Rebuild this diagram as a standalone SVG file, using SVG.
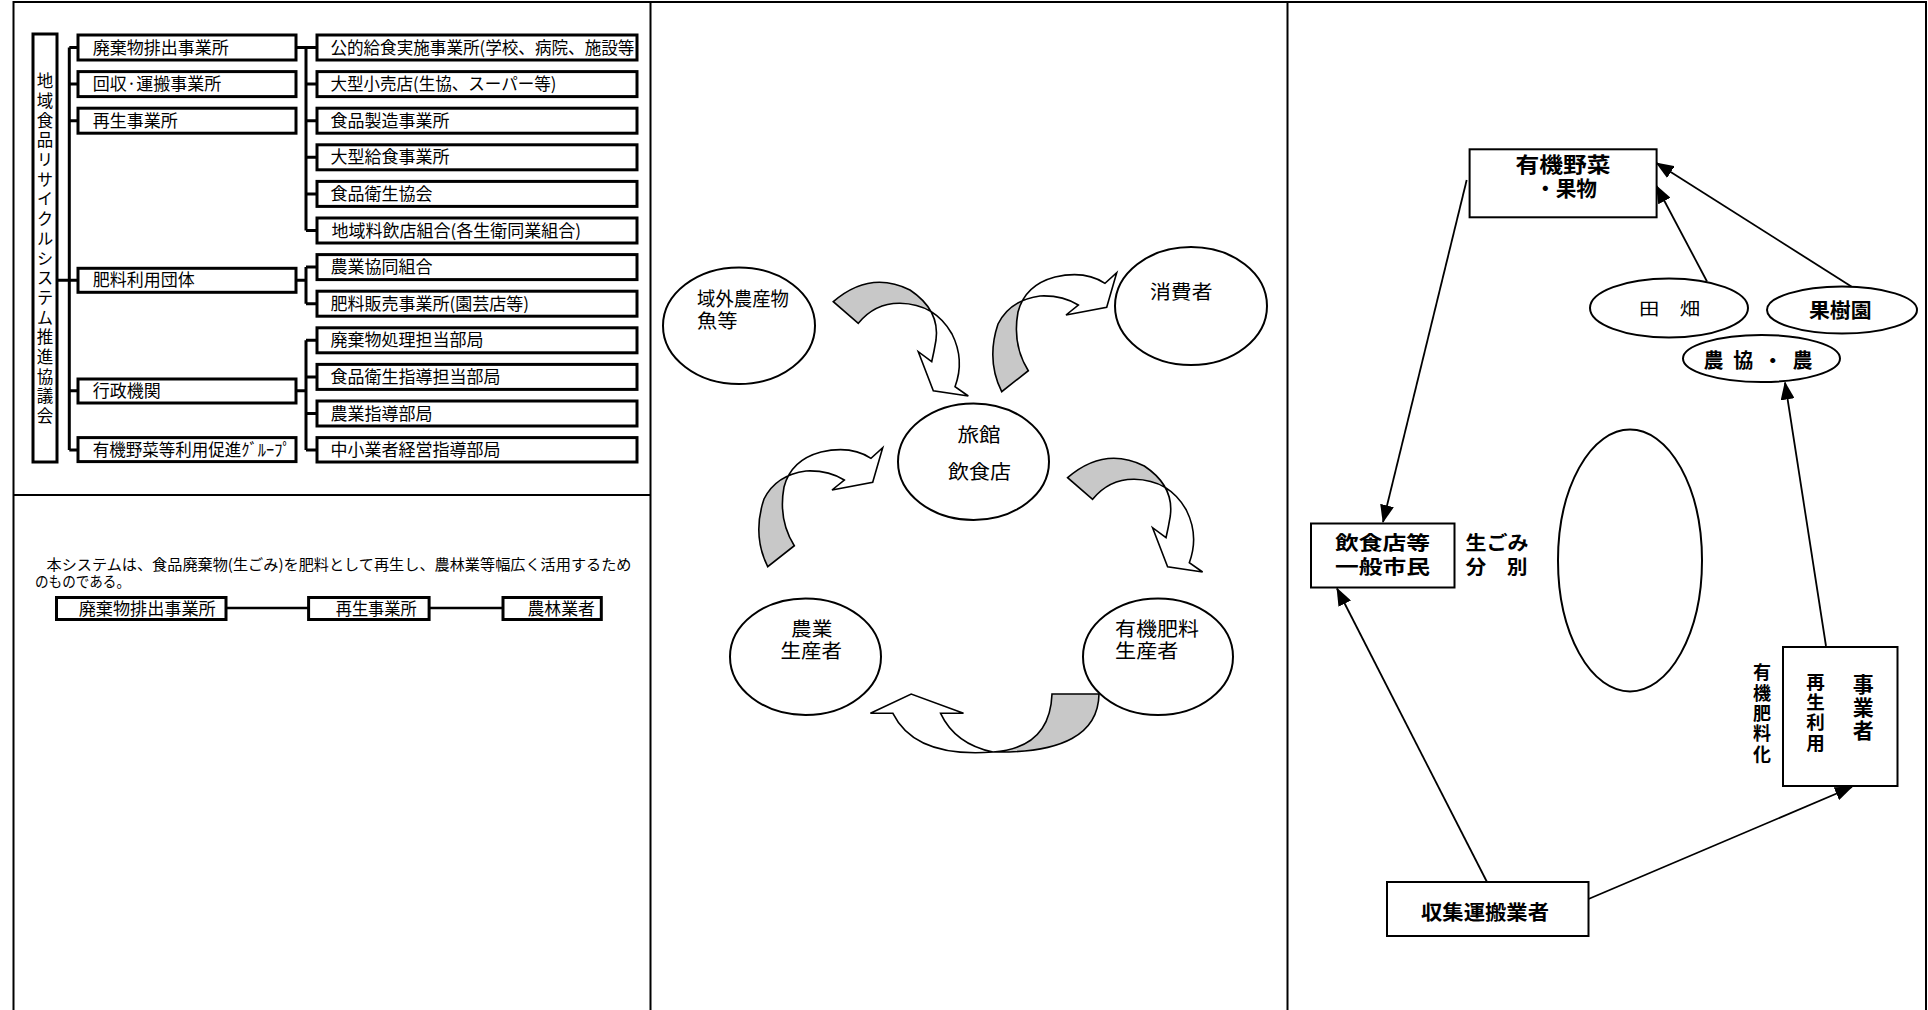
<svg xmlns="http://www.w3.org/2000/svg" xmlns:xlink="http://www.w3.org/1999/xlink" width="1928" height="1010" viewBox="0 0 1928 1010">
<style>
.t{font-family:"Noto Sans CJK JP","Noto Sans CJK SC",sans-serif;fill:#000}
.org{font-size:17px}
.mid{font-size:19.5px}
.b{font-weight:bold}
.vt{writing-mode:vertical-rl}
.box{fill:#fff;stroke:#000;stroke-width:3}
.rbox{fill:#fff;stroke:#000;stroke-width:2}
.ell{fill:#fff;stroke:#000;stroke-width:2}
.frame{stroke:#000;stroke-width:2;fill:none}
.conn{stroke:#000;stroke-width:3;fill:none}
.lnk{stroke:#000;stroke-width:2.5;fill:none}
.arr{stroke:#000;stroke-width:1.8;fill:none;marker-end:url(#ah)}
.rw{fill:#fff;stroke:none}
.rg{fill:#c8c8c8;stroke:none}
.ro{fill:none;stroke:#000;stroke-width:1.6;stroke-linejoin:miter}
</style>
<defs>
<marker id="ah" markerUnits="userSpaceOnUse" markerWidth="18" markerHeight="14" refX="17" refY="7" orient="auto">
<path d="M0,0 L18,7 L0,14 Z" fill="#000"/>
</marker>
<path id="ribA" d="M33.3,51.7 Q70,20 110,40 Q140,60 136,90 Q134,102 131.7,111.7 L118.3,101.7 L133.3,140.7 L168.3,146 L155,136.7 Q165,110 152,84 Q135,54 100,53.3 Q75,53 58.3,73.3 Z"/>
<path id="ribB" d="M201.7,141.7 Q186,110 198,74 Q210,50 240,46 Q262,45 278.3,55 L266,65 L306.7,57.3 L316.7,22.7 L305,33.3 Q285,20 255,27 Q225,35 218,62 Q212,95 228.3,120.7 Z"/>
<path id="ribE" d="M1052,694 Q1050,748 993,752 Q915,758 892.9,713.3 L870.4,713.3 L911.2,694 L963.5,713.3 L940.6,713.3 Q955,744 993,752 Q1098,754 1099,694 Z"/>
<clipPath id="clipA"><polygon points="-100,-100 291,-100 -100,291"/></clipPath>
<clipPath id="clipB"><polygon points="-100,-100 74,-100 400,226 400,400 -100,400"/></clipPath>
<clipPath id="clipE"><polygon points="993,600 1200,600 1200,800 993,800"/></clipPath>
</defs>
<rect width="1928" height="1010" fill="#fff"/>

<g id="frame">
<path class="frame" d="M13.5,1010 V2 H1926 V1010 M650.5,2 V1010 M1287.5,2 V1010 M13.5,495 H650.5"/>
</g>

<g id="connectors">
<path class="conn" d="M69.3,47.5 V450.1 M69.3,47.5 H78 M69.3,84.1 H78 M69.3,120.7 H78 M69.3,280.3 H78 M69.3,390.7 H78 M69.3,450.1 H78 M57,280.3 H69.3"/>
<path class="conn" d="M296,47.5 H306 M306,47.5 V230.5 M306,47.5 H317 M306,84.1 H317 M306,120.7 H317 M306,157.3 H317 M306,193.9 H317 M306,230.5 H317"/>
<path class="conn" d="M296,280.3 H306 M306,267.1 V303.7 M306,267.1 H317 M306,303.7 H317"/>
<path class="conn" d="M296,390.7 H306 M306,340.3 V450.1 M306,340.3 H317 M306,376.9 H317 M306,413.5 H317 M306,450.1 H317"/>
<path class="lnk" d="M226,608 H308.6 M429.1,608 H503"/>
<line class="arr" x1="1854.5" y1="288.5" x2="1656.5" y2="163"/>
<line class="arr" x1="1707" y1="281.5" x2="1656.5" y2="186"/>
<line class="arr" x1="1826" y1="646" x2="1785" y2="382.5"/>
<line class="arr" x1="1466.7" y1="180" x2="1383" y2="522"/>
<line class="arr" x1="1487" y1="882" x2="1337" y2="588.5"/>
<line class="arr" x1="1588.5" y1="899" x2="1852" y2="787"/>
</g>

<g id="council">
<rect class="box" x="33" y="34" width="24" height="428"/>
<text class="t vt" font-size="16.5" letter-spacing="3.2" x="45" y="72.7">地域食品リサイクルシステム推進協議会</text>
</g>
<g id="c1-haiki"><rect class="box" x="78" y="35" width="218" height="25"/><text class="t org" x="92.7" y="53.5">廃棄物排出事業所</text></g>
<g id="c1-kaishu"><rect class="box" x="78" y="71.6" width="218" height="25"/><text class="t org" x="92.7" y="90.1">回収·運搬事業所</text></g>
<g id="c1-saisei"><rect class="box" x="78" y="108.2" width="218" height="25"/><text class="t org" x="92.7" y="126.7">再生事業所</text></g>
<g id="c1-hiryo"><rect class="box" x="78" y="268.3" width="218" height="24"/><text class="t org" x="92.7" y="286.3">肥料利用団体</text></g>
<g id="c1-gyosei"><rect class="box" x="78" y="379" width="218" height="24"/><text class="t org" x="92.7" y="397">行政機関</text></g>
<g id="c1-yuki"><rect class="box" x="78" y="437.6" width="218" height="24"/><text class="t org" x="92.7" y="455.6" textLength="198" lengthAdjust="spacingAndGlyphs">有機野菜等利用促進ｸﾞﾙｰﾌﾟ</text></g>

<g id="c2-r1"><rect class="box" x="317" y="35" width="320" height="25"/><text class="t org" x="330.4" y="53.5" textLength="304" lengthAdjust="spacingAndGlyphs">公的給食実施事業所(学校、病院、施設等</text></g>
<g id="c2-r2"><rect class="box" x="317" y="71.6" width="320" height="25"/><text class="t org" x="330.4" y="90.1" textLength="226" lengthAdjust="spacingAndGlyphs">大型小売店(生協、スーパー等)</text></g>
<g id="c2-r3"><rect class="box" x="317" y="108.2" width="320" height="25"/><text class="t org" x="330.4" y="126.7">食品製造事業所</text></g>
<g id="c2-r4"><rect class="box" x="317" y="144.8" width="320" height="25"/><text class="t org" x="330.4" y="163.3">大型給食事業所</text></g>
<g id="c2-r5"><rect class="box" x="317" y="181.4" width="320" height="25"/><text class="t org" x="330.4" y="199.9">食品衛生協会</text></g>
<g id="c2-r6"><rect class="box" x="317" y="218" width="320" height="25"/><text class="t org" x="331.5" y="236.5">地域料飲店組合(各生衛同業組合)</text></g>
<g id="c2-r7"><rect class="box" x="317" y="254.6" width="320" height="25"/><text class="t org" x="330.4" y="273.1">農業協同組合</text></g>
<g id="c2-r8"><rect class="box" x="317" y="291.2" width="320" height="25"/><text class="t org" x="330.4" y="309.7">肥料販売事業所(園芸店等)</text></g>
<g id="c2-r9"><rect class="box" x="317" y="327.8" width="320" height="25"/><text class="t org" x="330.4" y="346.3">廃棄物処理担当部局</text></g>
<g id="c2-r10"><rect class="box" x="317" y="364.4" width="320" height="25"/><text class="t org" x="330.4" y="382.9">食品衛生指導担当部局</text></g>
<g id="c2-r11"><rect class="box" x="317" y="401" width="320" height="25"/><text class="t org" x="330.4" y="419.5">農業指導部局</text></g>
<g id="c2-r12"><rect class="box" x="317" y="437.6" width="320" height="24.4"/><text class="t org" x="330.4" y="455.8">中小業者経営指導部局</text></g>

<g id="description">
<text class="t" font-size="15" x="46.5" y="569.5" textLength="585" lengthAdjust="spacingAndGlyphs">本システムは、食品廃棄物(生ごみ)を肥料として再生し、農林業等幅広く活用するため</text>
<text class="t" font-size="15" x="35" y="587" textLength="95" lengthAdjust="spacingAndGlyphs">のものである。</text>
</g>
<g id="flow-haiki"><rect class="box" x="56.5" y="597.5" width="169.5" height="22"/><text class="t org" x="78.7" y="614.5" textLength="137" lengthAdjust="spacingAndGlyphs">廃棄物排出事業所</text></g>
<g id="flow-saisei"><rect class="box" x="308.6" y="597.5" width="120.5" height="22"/><text class="t org" x="335.7" y="614.5" textLength="81" lengthAdjust="spacingAndGlyphs">再生事業所</text></g>
<g id="flow-norin"><rect class="box" x="503" y="597.5" width="98.3" height="22"/><text class="t org" x="527.5" y="614.5" textLength="67.5" lengthAdjust="spacingAndGlyphs">農林業者</text></g>

<g id="m-iki"><ellipse class="ell" cx="739" cy="325.7" rx="76" ry="58.3"/><text class="t mid" x="697" y="305.5" textLength="92" lengthAdjust="spacingAndGlyphs">域外農産物</text><text class="t mid" x="697" y="327.5" textLength="40.5" lengthAdjust="spacingAndGlyphs">魚等</text></g>
<g id="m-shohi"><ellipse class="ell" cx="1191" cy="306" rx="76" ry="59"/><text class="t mid" x="1150" y="298.5" textLength="62.5" lengthAdjust="spacingAndGlyphs">消費者</text></g>
<g id="m-ryokan"><ellipse class="ell" cx="973.5" cy="461.7" rx="75.5" ry="58.3"/><text class="t mid" x="957.5" y="441.5" textLength="43" lengthAdjust="spacingAndGlyphs">旅館</text><text class="t mid" x="948" y="478.5" textLength="63" lengthAdjust="spacingAndGlyphs">飲食店</text></g>
<g id="m-nogyo"><ellipse class="ell" cx="805.5" cy="656.7" rx="75.5" ry="58.3"/><text class="t mid" x="791" y="635.5" textLength="41.5" lengthAdjust="spacingAndGlyphs">農業</text><text class="t mid" x="780.6" y="657.5" textLength="61.5" lengthAdjust="spacingAndGlyphs">生産者</text></g>
<g id="m-yuki"><ellipse class="ell" cx="1158" cy="656.7" rx="75" ry="58.3"/><text class="t mid" x="1115" y="635.5" textLength="84" lengthAdjust="spacingAndGlyphs">有機肥料</text><text class="t mid" x="1115" y="657.5" textLength="63.5" lengthAdjust="spacingAndGlyphs">生産者</text></g>

<g id="m-arrows">
<g id="arrow-a" transform="translate(800,250)"><use xlink:href="#ribA" class="rw"/><use xlink:href="#ribA" class="rg" clip-path="url(#clipA)"/><use xlink:href="#ribA" class="ro"/></g>
<g id="arrow-d" transform="translate(1034.3,426)"><use xlink:href="#ribA" class="rw"/><use xlink:href="#ribA" class="rg" clip-path="url(#clipA)"/><use xlink:href="#ribA" class="ro"/></g>
<g id="arrow-b" transform="translate(800,250)"><use xlink:href="#ribB" class="rw"/><use xlink:href="#ribB" class="rg" clip-path="url(#clipB)"/><use xlink:href="#ribB" class="ro"/></g>
<g id="arrow-c" transform="translate(566,425)"><use xlink:href="#ribB" class="rw"/><use xlink:href="#ribB" class="rg" clip-path="url(#clipB)"/><use xlink:href="#ribB" class="ro"/></g>
<g id="arrow-e"><use xlink:href="#ribE" class="rw"/><use xlink:href="#ribE" class="rg" clip-path="url(#clipE)"/><use xlink:href="#ribE" class="ro"/></g>
</g>

<g id="r-yasai"><rect class="rbox" x="1469.6" y="149.3" width="187" height="68"/><text class="t b" font-size="21" x="1515.5" y="171.5" textLength="95" lengthAdjust="spacingAndGlyphs">有機野菜</text><text class="t b" font-size="21" x="1535" y="196" textLength="62" lengthAdjust="spacingAndGlyphs">・果物</text></g>
<g id="r-hatake"><ellipse class="ell" cx="1669" cy="308" rx="79" ry="29.5"/><text class="t" font-size="17" x="1639" y="314.5" textLength="61" lengthAdjust="spacingAndGlyphs">田　畑</text></g>
<g id="r-kaju"><ellipse class="ell" cx="1842" cy="310" rx="75" ry="23.5"/><text class="t b" font-size="20" x="1809" y="318" textLength="62.6" lengthAdjust="spacingAndGlyphs">果樹園</text></g>
<g id="r-nokyo"><ellipse class="ell" cx="1761.5" cy="358.5" rx="78.5" ry="23.5"/><text class="t b" font-size="20" x="1703.5" y="368" textLength="109" lengthAdjust="spacing">農協・農</text></g>
<g id="r-inshoku"><rect class="rbox" x="1311" y="523.5" width="143.5" height="64"/><text class="t b" font-size="19.5" x="1335" y="549.5" textLength="95" lengthAdjust="spacingAndGlyphs">飲食店等</text><text class="t b" font-size="19.5" x="1335" y="573.5" textLength="95" lengthAdjust="spacingAndGlyphs">一般市民</text></g>
<g id="r-namagomi"><text class="t b" font-size="19.5" x="1465.5" y="549.5" textLength="63" lengthAdjust="spacingAndGlyphs">生ごみ</text><text class="t b" font-size="19.5" x="1465.5" y="573.5" textLength="62" lengthAdjust="spacingAndGlyphs">分　別</text></g>
<g id="r-oval"><ellipse class="ell" cx="1630" cy="560.5" rx="72" ry="131"/></g>
<g id="r-hiryoka"><text class="t b vt" font-size="18" letter-spacing="2.3" x="1762" y="663.5">有機肥料化</text></g>
<g id="r-saisei"><rect class="rbox" x="1783" y="647" width="114.5" height="139"/><text class="t b vt" font-size="18.5" letter-spacing="1.75" x="1815.5" y="672.5">再生利用</text><text class="t b vt" font-size="21" letter-spacing="2" x="1863.3" y="674">事業者</text></g>
<g id="r-shushu"><rect class="rbox" x="1387" y="882" width="201.5" height="54"/><text class="t b" font-size="20" x="1421" y="920" textLength="128" lengthAdjust="spacingAndGlyphs">収集運搬業者</text></g>
</svg>
